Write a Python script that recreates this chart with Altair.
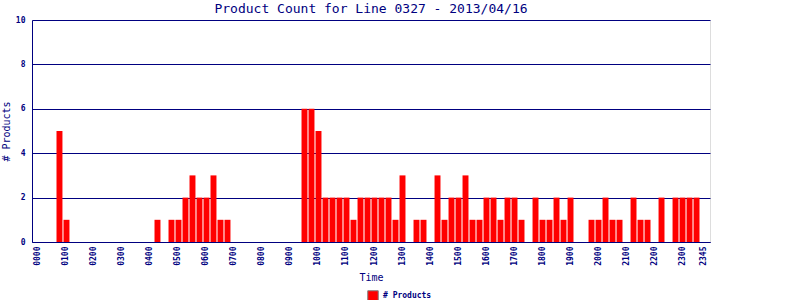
import altair as alt
import pandas as pd

times = [
    "0000", "0015", "0030", "0045", "0100", "0115", "0130", "0145",
    "0200", "0215", "0230", "0245", "0300", "0315", "0330", "0345",
    "0400", "0415", "0430", "0445", "0500", "0515", "0530", "0545",
    "0600", "0615", "0630", "0645", "0700", "0715", "0730", "0745",
    "0800", "0815", "0830", "0845", "0900", "0915", "0930", "0945",
    "1000", "1015", "1030", "1045", "1100", "1115", "1130", "1145",
    "1200", "1215", "1230", "1245", "1300", "1315", "1330", "1345",
    "1400", "1415", "1430", "1445", "1500", "1515", "1530", "1545",
    "1600", "1615", "1630", "1645", "1700", "1715", "1730", "1745",
    "1800", "1815", "1830", "1845", "1900", "1915", "1930", "1945",
    "2000", "2015", "2030", "2045", "2100", "2115", "2130", "2145",
    "2200", "2215", "2230", "2245", "2300", "2315", "2330", "2345",
]

counts = [
    0, 0, 0, 5, 1, 0, 0, 0,
    0, 0, 0, 0, 0, 0, 0, 0,
    0, 1, 0, 1, 1, 2, 3, 2,
    2, 3, 1, 1, 0, 0, 0, 0,
    0, 0, 0, 0, 0, 0, 6, 6,
    5, 2, 2, 2, 2, 1, 2, 2,
    2, 2, 2, 1, 3, 0, 1, 1,
    0, 3, 1, 2, 2, 3, 1, 1,
    2, 2, 1, 2, 2, 1, 0, 2,
    1, 1, 2, 1, 2, 0, 0, 1,
    1, 2, 1, 1, 0, 2, 1, 1,
    0, 2, 0, 2, 2, 2, 2, 0,
]

tick_labels = [
    "0000", "0100", "0200", "0300", "0400", "0500", "0600", "0700",
    "0800", "0900", "1000", "1100", "1200", "1300", "1400", "1500",
    "1600", "1700", "1800", "1900", "2000", "2100", "2200", "2300", "2345",
]

y_ticks = [0, 2, 4, 6, 8, 10]
series_name = "# Products"

df = pd.DataFrame({"time": times, "count": counts, "series": [series_name] * len(times)})

NAVY = "#000080"
MONO = "DejaVu Sans Mono"

chart = (
    alt.Chart(df)
    .mark_bar(color="#ff0000")
    .encode(
        x=alt.X(
            "time:O",
            sort=None,
            scale=alt.Scale(paddingInner=0.15, paddingOuter=0.5),
            axis=alt.Axis(
                values=tick_labels,
                labelAngle=270,
                ticks=False,
                labelFont=MONO,
                labelFontSize=8,
                labelFontWeight="bold",
                labelColor=NAVY,
                labelPadding=4,
                domainColor=NAVY,
                title="Time",
                titleFont=MONO,
                titleFontSize=10,
                titleFontWeight="normal",
                titleColor=NAVY,
                titlePadding=7,
                grid=False,
            ),
        ),
        y=alt.Y(
            "count:Q",
            scale=alt.Scale(domain=[0, 10], nice=False),
            axis=alt.Axis(
                values=y_ticks,
                ticks=False,
                labelFont=MONO,
                labelFontSize=8,
                labelFontWeight="bold",
                labelColor=NAVY,
                labelPadding=7,
                domainColor=NAVY,
                gridColor=NAVY,
                gridOpacity=1,
                gridWidth=1,
                title="# Products",
                titleFont=MONO,
                titleFontSize=10,
                titleFontWeight="normal",
                titleColor=NAVY,
                titlePadding=4,
            ),
        ),
        color=alt.Color(
            "series:N",
            scale=alt.Scale(range=["#ff0000"]),
            legend=alt.Legend(
                title=None,
                orient="none",
                legendX=335,
                legendY=270,
                direction="horizontal",
                symbolType="square",
                symbolSize=110,
                symbolStrokeColor="#808080",
                symbolStrokeWidth=1,
                symbolOpacity=1,
                labelFont=MONO,
                labelFontSize=8,
                labelFontWeight="bold",
                labelColor=NAVY,
            ),
        ),
    )
    .properties(
        width=678,
        height=222,
        padding={"left": 32, "top": 20, "right": 90, "bottom": 58},
        autosize=alt.AutoSizeParams(type="none"),
        title=alt.TitleParams(
            "Product Count for Line 0327 - 2013/04/16",
            font=MONO,
            fontSize=13,
            fontWeight="normal",
            color=NAVY,
            anchor="middle",
            offset=0,
        ),
    )
    .configure_view(stroke=NAVY, strokeWidth=1)
    .configure(background="white")
)

chart.save("out.html", embed_options={"renderer": "svg", "actions": False})
